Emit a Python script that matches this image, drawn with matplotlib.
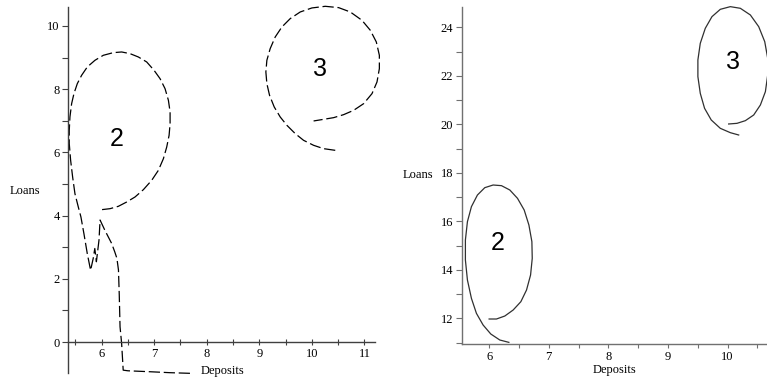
import matplotlib.pyplot as plt
from matplotlib.ticker import MultipleLocator

# left panel: dashed trajectories
left2_x = [7.68, 7.30, 6.92, 6.50, 6.41, 6.38, 6.35, 6.335, 6.32, 6.29, 6.25, 6.19, 6.06,
           5.97, 5.95, 5.90, 5.87, 5.84, 5.79, 5.727, 5.663, 5.606, 5.556, 5.492, 5.448,
           5.410, 5.384, 5.384, 5.397, 5.429, 5.473, 5.537, 5.619, 5.727, 5.873, 6.032,
           6.222, 6.381, 6.540, 6.698, 6.857, 6.997, 7.111, 7.206, 7.270, 7.302, 7.302,
           7.283, 7.238, 7.175, 7.079, 6.952, 6.794, 6.635, 6.476, 6.317, 6.159, 6.000]
left2_y = [-0.99, -0.97, -0.94, -0.91, -0.89, -0.04, 0.48, 1.50, 2.28, 2.65, 2.85, 3.12,
           3.54, 3.86, 3.23, 2.54, 2.96, 2.65, 2.27, 2.795, 3.428, 3.956, 4.272, 4.694,
           5.222, 5.749, 6.276, 6.698, 7.120, 7.542, 7.859, 8.175, 8.439, 8.703, 8.914,
           9.072, 9.156, 9.177, 9.124, 9.019, 8.861, 8.597, 8.333, 8.017, 7.648, 7.278,
           6.909, 6.540, 6.171, 5.802, 5.432, 5.116, 4.821, 4.589, 4.430, 4.293, 4.219,
           4.188]
left3_x = [10.444, 10.222, 10.032, 9.841, 9.683, 9.524, 9.397, 9.283, 9.194, 9.143, 9.124,
           9.143, 9.206, 9.302, 9.429, 9.587, 9.778, 10.000, 10.254, 10.508, 10.730,
           10.952, 11.111, 11.225, 11.283, 11.283, 11.238, 11.143, 10.984, 10.794,
           10.603, 10.413, 10.222, 10.032]
left3_y = [6.065, 6.118, 6.224, 6.382, 6.593, 6.857, 7.120, 7.437, 7.806, 8.175, 8.544,
           8.914, 9.283, 9.652, 9.968, 10.232, 10.443, 10.570, 10.622, 10.580, 10.443,
           10.179, 9.863, 9.494, 9.072, 8.650, 8.228, 7.859, 7.542, 7.331, 7.194, 7.099,
           7.046, 6.994]

# right panel: solid trajectories
right2_x = [6.331, 6.179, 6.028, 5.899, 5.787, 5.703, 5.636, 5.602, 5.602, 5.636, 5.703,
            5.804, 5.927, 6.067, 6.207, 6.347, 6.476, 6.588, 6.667, 6.717, 6.723, 6.695,
            6.627, 6.532, 6.403, 6.263, 6.123, 6.000]
right2_y = [11.010, 11.107, 11.354, 11.725, 12.206, 12.825, 13.581, 14.405, 15.230,
            15.986, 16.605, 17.086, 17.388, 17.498, 17.471, 17.292, 16.948, 16.467,
            15.849, 15.162, 14.474, 13.787, 13.168, 12.687, 12.344, 12.096, 11.973,
            11.973]
right3_x = [10.185, 10.045, 9.877, 9.725, 9.613, 9.541, 9.501, 9.501, 9.541, 9.625, 9.737,
            9.877, 10.045, 10.213, 10.381, 10.521, 10.622, 10.672, 10.672, 10.633, 10.549,
            10.437, 10.297, 10.157, 10.017]
right3_y = [19.560, 19.656, 19.835, 20.179, 20.660, 21.278, 21.966, 22.653, 23.340,
            23.959, 24.440, 24.742, 24.852, 24.784, 24.509, 24.027, 23.409, 22.722,
            22.034, 21.347, 20.797, 20.385, 20.151, 20.041, 20.014]

labels = ["2", "3"]
left_label_pos = [(6.29, 6.43), (10.15, 8.65)]
right_label_pos = [(6.14, 15.09), (10.09, 22.58)]

plt.rcParams["font.family"] = ["Liberation Serif", "DejaVu Serif"]

fig = plt.figure(figsize=(7.67, 3.81), dpi=100)
ax1 = fig.add_axes([68 / 767, 8 / 381, 307 / 767, 366 / 381])
ax2 = fig.add_axes([461.7 / 767, 36.7 / 381, 305.3 / 767, 337.6 / 381])


def style_axes(ax, axis_color):
    for s in ["top", "right"]:
        ax.spines[s].set_visible(False)
    for s in ["left", "bottom"]:
        ax.spines[s].set_color(axis_color)
        ax.spines[s].set_linewidth(1.0)
    ax.xaxis.set_minor_locator(MultipleLocator(0.5))
    ax.tick_params(which="both", direction="out", length=4, width=0.8,
                   color=axis_color, labelsize=9, pad=2)
    ax.patch.set_alpha(0)


ax1.plot(left2_x, left2_y, color="black", lw=0.9, dashes=(9, 3), clip_on=False)
ax1.plot(left3_x, left3_y, color="black", lw=0.9, dashes=(9, 3), clip_on=False)
ax1.set_xlim(5.36, 11.2)
ax1.set_ylim(-0.98, 10.6)
ax1.spines["bottom"].set_position(("data", 0))
ax1.set_xticks([6, 7, 8, 9, 10, 11])
ax1.yaxis.set_major_locator(MultipleLocator(2))
ax1.yaxis.set_minor_locator(MultipleLocator(1))
style_axes(ax1, "#404040")
ax1.tick_params(axis="x", which="both", direction="inout", length=5)
for t, (x, y) in zip(labels, left_label_pos):
    ax1.text(x, y, t, fontsize=18, family="Liberation Sans", ha="center", va="center")
fig.text(25 / 767, 1 - 191 / 381, "Loans", fontsize=9, ha="center", va="center")
fig.text(223 / 767, 1 - 371 / 381, "Deposits", fontsize=9, ha="center", va="center")

ax2.plot(right2_x, right2_y, color="#303030", lw=0.9, clip_on=False)
ax2.plot(right3_x, right3_y, color="#303030", lw=0.9, clip_on=False)
ax2.set_xlim(5.54, 10.66)
ax2.set_ylim(10.93, 24.85)
ax2.set_xticks([6, 7, 8, 9, 10])
ax2.yaxis.set_major_locator(MultipleLocator(2))
ax2.yaxis.set_minor_locator(MultipleLocator(1))
style_axes(ax2, "#707070")
ax2.tick_params(axis="x", which="both", length=3, pad=2)
for t, (x, y) in zip(labels, right_label_pos):
    ax2.text(x, y, t, fontsize=18, family="Liberation Sans", ha="center", va="center")
fig.text(418 / 767, 1 - 175 / 381, "Loans", fontsize=9, ha="center", va="center")
fig.text(615 / 767, 1 - 370 / 381, "Deposits", fontsize=9, ha="center", va="center")

fig.savefig("out.png", dpi=100)
